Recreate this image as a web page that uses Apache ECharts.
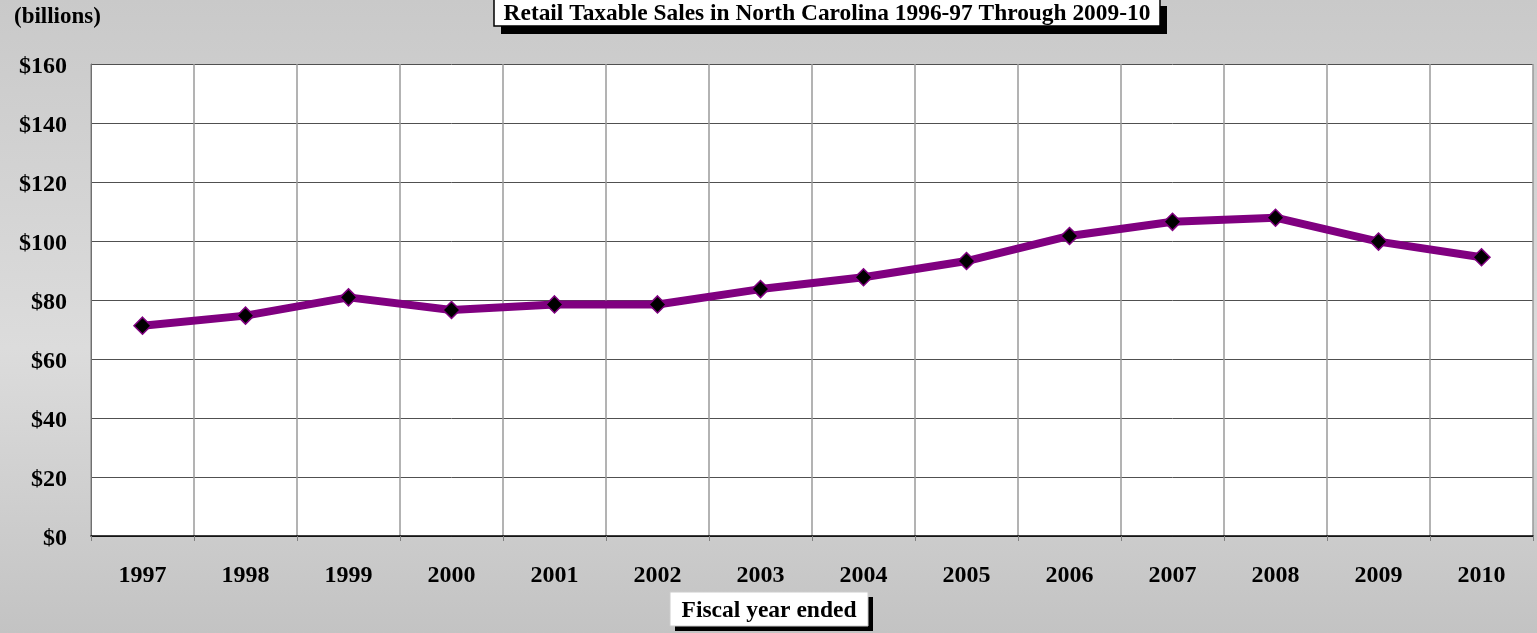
<!DOCTYPE html>
<html>
<head>
<meta charset="utf-8">
<script src="https://cdn.jsdelivr.net/npm/echarts@6/dist/echarts.min.js"></script>
<style>
html,body{margin:0;padding:0;width:1537px;height:633px;overflow:hidden;}
#chart{width:1537px;height:633px;}
</style>
</head>
<body>
<div id="chart"></div>
<script>
var titleText = 'Retail Taxable Sales in North Carolina 1996-97 Through 2009-10';
var yUnitText = '(billions)';
var xAxisTitle = 'Fiscal year ended';
var categories = ['1997','1998','1999','2000','2001','2002','2003','2004','2005','2006','2007','2008','2009','2010'];
var salesValues = [71.3, 74.7, 80.9, 76.6, 78.5, 78.5, 83.7, 87.7, 93.2, 101.7, 106.5, 107.9, 99.8, 94.5];
var yMin = 0, yMax = 160, yInterval = 20;

var FONT = '"Liberation Serif", "Times New Roman", serif';
var chart = echarts.init(document.getElementById('chart'));
chart.setOption({
  animation: false,
  backgroundColor: {
    type: 'linear', x: 0, y: 0, x2: 0, y2: 1,
    colorStops: [
      {offset: 0, color: '#c9c9c9'},
      {offset: 0.55, color: '#dcdcdc'},
      {offset: 1, color: '#c3c3c3'}
    ]
  },
  grid: {left: 91, right: 4, top: 64, bottom: 97, show: true, backgroundColor: '#ffffff', borderWidth: 0},
  xAxis: {
    type: 'category',
    data: categories,
    boundaryGap: true,
    axisLine: {show: true, lineStyle: {color: '#000000', width: 1.5}},
    axisTick: {show: true, length: 5, alignWithLabel: false, lineStyle: {color: '#808080', width: 1}},
    axisLabel: {color: '#000', fontFamily: FONT, fontWeight: 'bold', fontSize: 24, margin: 28},
    splitLine: {show: true, lineStyle: {color: '#9a9a9a', width: 1.5}}
  },
  yAxis: {
    type: 'value',
    min: yMin, max: yMax, interval: yInterval,
    axisLine: {show: true, lineStyle: {color: '#707070', width: 1}},
    axisTick: {show: false},
    axisLabel: {margin: 24,
      formatter: function(v){ return '{a|$' + v + '}'; },
      rich: {a: {color: '#000', fontFamily: FONT, fontWeight: 'bold', fontSize: 24, padding: [6, 0, 0, 0]}}},
    splitLine: {show: true, lineStyle: {color: '#505050', width: 1}}
  },
  series: [{
    type: 'line',
    data: salesValues,
    lineStyle: {color: '#800080', width: 8},
    symbol: 'diamond',
    symbolSize: 17,
    itemStyle: {color: '#000000', borderColor: '#800080', borderWidth: 1.5},
    z: 5
  }],
  graphic: [
    {type: 'text', left: 14, top: 6, style: {text: yUnitText, fill: '#000', font: 'bold 23px ' + FONT}},
    {type: 'rect', shape: {x: 501, y: 6, width: 666, height: 28}, style: {fill: '#000'}, z: 10},
    {type: 'rect', shape: {x: 494, y: -2, width: 666, height: 28}, style: {fill: '#fff', stroke: '#000', lineWidth: 1.5}, z: 11},
    {type: 'text', x: 827, y: 14, style: {text: titleText, fill: '#000', font: 'bold 23.4px ' + FONT, textAlign: 'center', textVerticalAlign: 'middle'}, z: 12},
    {type: 'rect', shape: {x: 675, y: 597, width: 198, height: 34}, style: {fill: '#000'}, z: 10},
    {type: 'rect', shape: {x: 670, y: 592, width: 198, height: 34}, style: {fill: '#fff', stroke: '#cccccc', lineWidth: 1}, z: 11},
    {type: 'text', x: 769, y: 611, style: {text: xAxisTitle, fill: '#000', font: 'bold 23.5px ' + FONT, textAlign: 'center', textVerticalAlign: 'middle'}, z: 12}
  ]
});
</script>
</body>
</html>
